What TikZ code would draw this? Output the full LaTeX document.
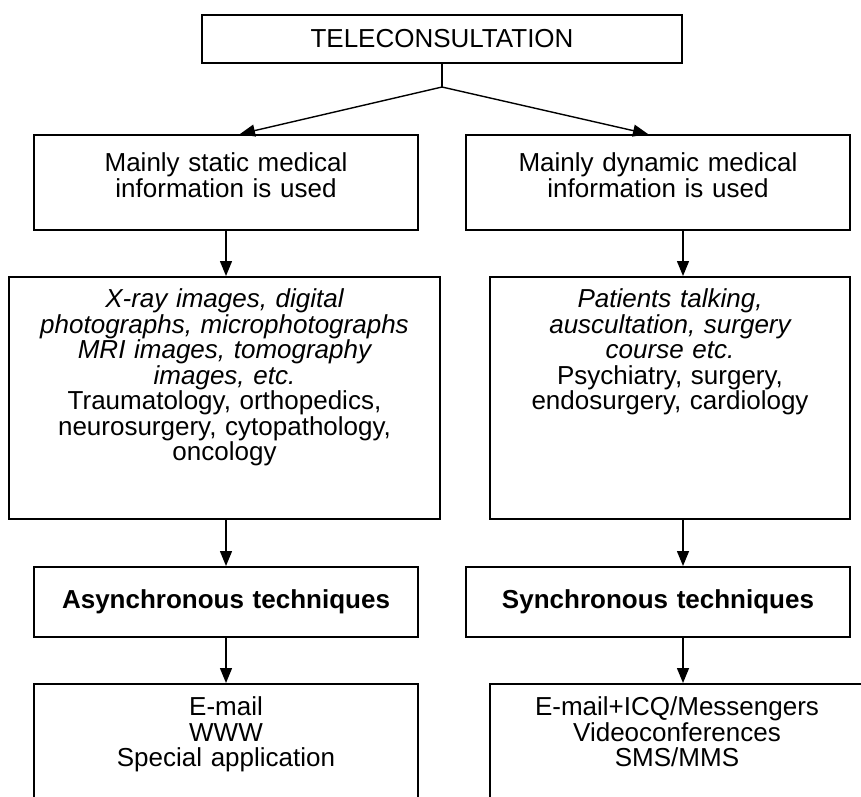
\documentclass[tikz,border=0pt]{standalone}
\usepackage{fontspec}
\setmainfont{Liberation Sans}
\usetikzlibrary{arrows.meta}

\begin{document}
\begin{tikzpicture}[x = 1pt, y = -1pt,
  box/.style = {rectangle, draw, line width = 1.7pt, inner sep = 0pt, anchor = north, align = center,
                font = \fontsize{26}{25.5}\selectfont},
  link/.style = {line width = 1.4pt, -{Triangle[length = 15pt, width = 12pt]}}]

\useasboundingbox (0, 0) rectangle (861, 796);
\clip (0, 0) rectangle (861, 796);


%%% Teleconsultation

\node [box, text width = 480pt, text height = 33pt, text depth = 15pt] (tele) at (442, 14) {TELECONSULTATION};

\coordinate (split) at (442, 87);

\draw [line width = 1.4pt] (tele) -- (split);


%%% Kind of information

\node [box, text width = 384pt, text height = 37pt, text depth = 58pt] (static) at (226, 134) {Mainly static medical\\information is used};

\node [box, text width = 384pt, text height = 37pt, text depth = 58pt] (dynamic) at (658, 134) {Mainly dynamic medical\\information is used};

\draw [link] (split) -- ([xshift = 14pt] static.north);

\draw [link] (split) -- ([xshift = -10pt] dynamic.north);


%%% Examples

\node [box, text width = 431pt, text height = 31pt, text depth = 211pt] (staticEx) at (224.5, 276) {{\itshape X-ray images, digital\\photographs, microphotographs\\MRI images, tomography\\images, etc.}\\Traumatology, orthopedics,\\neurosurgery, cytopathology,\\oncology};

\node [box, text width = 360pt, text height = 31pt, text depth = 211pt] (dynamicEx) at (670, 276) {{\itshape Patients talking,\\auscultation, surgery\\course etc.}\\Psychiatry, surgery,\\endosurgery, cardiology};

\draw [link] (static.south) -- (static.south |- staticEx.north);

\draw [link] ([xshift = 25pt] dynamic.south) -- ([xshift = 25pt] dynamic.south |- dynamicEx.north);


%%% Techniques

\node [box, text width = 384pt, text height = 42pt, text depth = 28pt] (async) at (226, 566) {\bfseries Asynchronous techniques};

\node [box, text width = 384pt, text height = 42pt, text depth = 28pt] (sync) at (658, 566) {\bfseries Synchronous techniques};

\draw [link] (static.south |- staticEx.south) -- (async);

\draw [link] ([xshift = 25pt] dynamic.south |- dynamicEx.south) -- ([xshift = 25pt] sync.north);


%%% Means (boxes run off the page)

\node [box, text width = 384pt, text height = 32pt, text depth = 160pt] (asyncMeans) at (226, 683) {E-mail\\WWW\\Special application};

\node [box, text width = 374pt, text height = 32pt, text depth = 160pt] (syncMeans) at (677, 683) {E-mail+ICQ/Messengers\\Videoconferences\\SMS/MMS};

\draw [link] (async) -- (asyncMeans);

\draw [link] ([xshift = 25pt] sync.south) -- ([xshift = 25pt] sync.south |- syncMeans.north);

\end{tikzpicture}
\end{document}
